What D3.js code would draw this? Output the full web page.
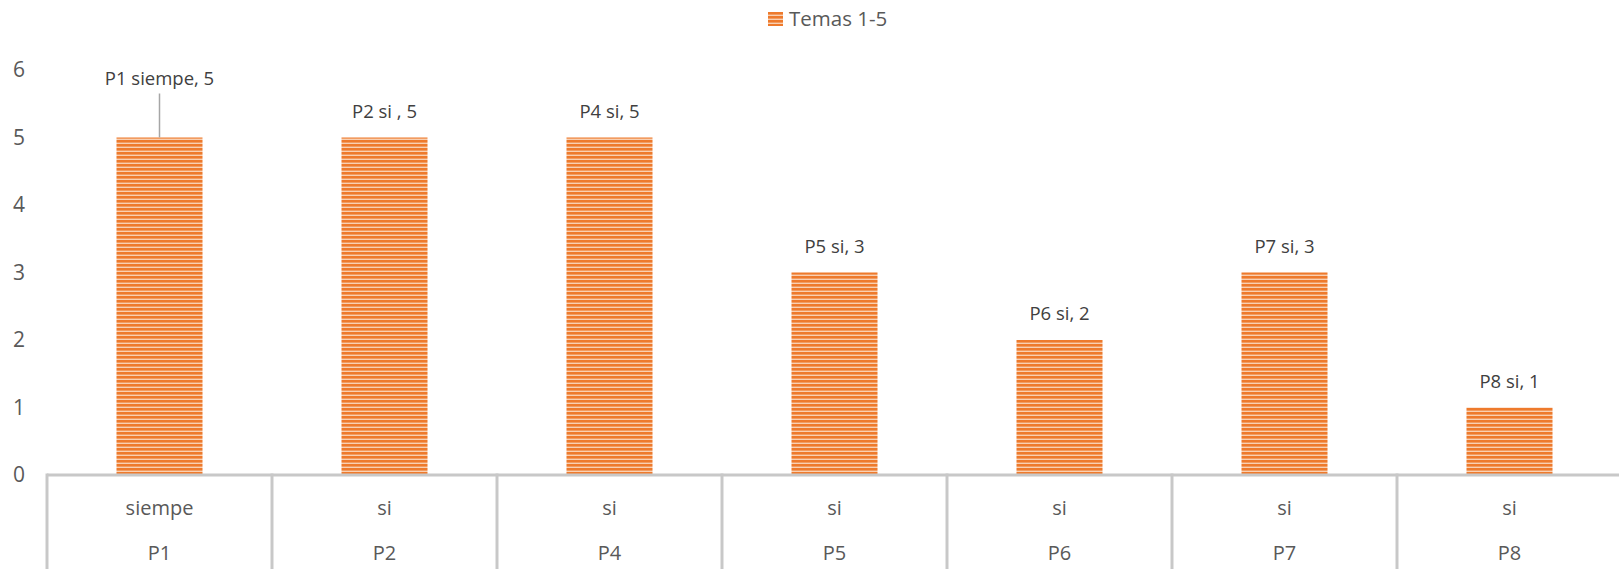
<!DOCTYPE html>
<html>
<head>
<meta charset="utf-8">
<script src="https://cdn.jsdelivr.net/npm/d3@7"></script>
<style>
  html, body { margin: 0; padding: 0; background: #ffffff; }
  svg { display: block; font-family: "Open Sans", "Noto Sans", sans-serif; }
</style>
</head>
<body>
<svg id="chart" width="1619" height="569"></svg>
<script>
// Question codes along the outer axis row, answers on the inner row
const categories = ["P1", "P2", "P4", "P5", "P6", "P7", "P8"];
const answers = ["siempe", "si", "si", "si", "si", "si", "si"];
// Series "Temas 1-5"
const seriesName = "Temas 1-5";
const values = [5, 5, 5, 3, 2, 3, 1];
const dataLabels = ["P1 siempe, 5", "P2 si , 5", "P4 si, 5", "P5 si, 3", "P6 si, 2", "P7 si, 3", "P8 si, 1"];
const yTicks = [0, 1, 2, 3, 4, 5, 6];

const svg = d3.select("#chart");
const W = 1619, H = 569;
const plotLeft = 47, bandW = 225;
const textColor = "#595959";
const axisColor = "#c8c8c8";

const x = d3.scaleBand()
  .domain(categories)
  .range([plotLeft, plotLeft + bandW * categories.length])
  .paddingInner(0).paddingOuter(0);

const y = d3.scaleLinear().domain([0, 6]).range([475, 70]);

// Horizontal stripe fill for the bars
const defs = svg.append("defs");
const pat = defs.append("pattern")
  .attr("id", "stripes")
  .attr("patternUnits", "userSpaceOnUse")
  .attr("width", 8).attr("height", 4);
pat.append("rect").attr("width", 8).attr("height", 4).attr("fill", "#f9d0b2");
pat.append("rect").attr("y", 0).attr("width", 8).attr("height", 2.6).attr("fill", "#ee7a2c");

// Y axis tick labels (no axis line)
const yAxis = d3.axisLeft(y).tickValues(yTicks).tickFormat(d3.format("d")).tickSize(0).tickPadding(0);
const gy = svg.append("g").attr("transform", "translate(19,0)").call(yAxis);
gy.select(".domain").remove();
gy.selectAll("text")
  .attr("text-anchor", "middle")
  .attr("fill", textColor)
  .style("font-size", "21px")
  .style("font-family", "'Open Sans', sans-serif");

// Bars
const barW = 86;
svg.append("g").selectAll("rect")
  .data(values)
  .join("rect")
  .attr("x", (d, i) => x(categories[i]) + x.bandwidth() / 2 - barW / 2)
  .attr("y", d => y(d))
  .attr("width", barW)
  .attr("height", d => y(0) - y(d))
  .attr("fill", "url(#stripes)");

// Category axis: baseline plus divider grid for the two label rows
const ax = svg.append("g");
ax.append("line")
  .attr("x1", plotLeft).attr("x2", W)
  .attr("y1", y(0)).attr("y2", y(0))
  .attr("stroke", axisColor).attr("stroke-width", 3);
const dividers = d3.range(categories.length + 1).map(i => plotLeft + i * x.bandwidth());
ax.selectAll("line.div")
  .data(dividers)
  .join("line")
  .attr("class", "div")
  .attr("x1", d => d).attr("x2", d => d)
  .attr("y1", y(0) - 1.5).attr("y2", H)
  .attr("stroke", axisColor).attr("stroke-width", 3);

// Inner row: answers
ax.selectAll("text.ans")
  .data(answers)
  .join("text")
  .attr("class", "ans")
  .attr("x", (d, i) => x(categories[i]) + x.bandwidth() / 2)
  .attr("y", 508)
  .attr("dy", "0.35em")
  .attr("text-anchor", "middle")
  .attr("fill", textColor)
  .style("font-size", "20px")
  .text(d => d);

// Outer row: question codes
ax.selectAll("text.cat")
  .data(categories)
  .join("text")
  .attr("class", "cat")
  .attr("x", d => x(d) + x.bandwidth() / 2)
  .attr("y", 553)
  .attr("dy", "0.35em")
  .attr("text-anchor", "middle")
  .attr("fill", textColor)
  .style("font-size", "20px")
  .text(d => d);

// Data labels; the first one is lifted with a leader line
const labelOffset = (i) => i === 0 ? 59 : 26;
svg.append("g").selectAll("text")
  .data(values)
  .join("text")
  .attr("x", (d, i) => x(categories[i]) + x.bandwidth() / 2)
  .attr("y", (d, i) => y(d) - labelOffset(i))
  .attr("dy", "0.35em")
  .attr("text-anchor", "middle")
  .attr("fill", "#404040")
  .style("font-size", "18.5px")
  .text((d, i) => dataLabels[i]);

svg.append("line")
  .attr("x1", x(categories[0]) + x.bandwidth() / 2)
  .attr("x2", x(categories[0]) + x.bandwidth() / 2)
  .attr("y1", y(values[0]) - 44)
  .attr("y2", y(values[0]))
  .attr("stroke", "#a6a6a6").attr("stroke-width", 1.5);

// Legend
const lg = svg.append("g").attr("transform", "translate(768,12)");
lg.append("rect").attr("width", 15).attr("height", 14).attr("fill", "url(#stripes)");
lg.append("text")
  .attr("x", 21).attr("y", 7)
  .attr("dy", "0.35em")
  .attr("fill", textColor)
  .style("font-size", "20.5px")
  .text(seriesName);
</script>
</body>
</html>
